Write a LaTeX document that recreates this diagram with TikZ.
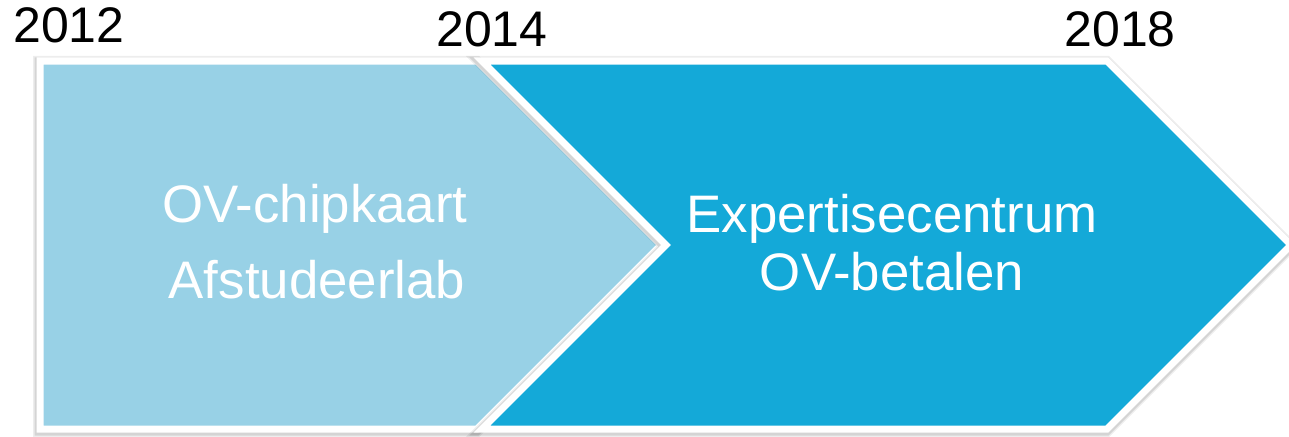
\documentclass[tikz,border=0pt]{standalone}
\usepackage{fontspec}
\setmainfont{Liberation Sans}
\definecolor{lightblue}{RGB}{152,209,230}
\definecolor{darkblue}{RGB}{20,169,216}
\begin{document}
\begin{tikzpicture}[x=1pt,y=-1pt,
  shapebox/.style={line width=7pt,draw=white,line join=miter},
  shadowA/.style={draw=black,opacity=0.07,line width=13pt,line join=miter},
  shadowB/.style={draw=black,opacity=0.10,line width=10pt,line join=miter},
  bodytext/.style={text=white,font=\fontsize{52.8}{62}\selectfont,anchor=base,inner sep=0pt},
  yeartext/.style={text=black,font=\fontsize{50}{58}\selectfont,anchor=base,inner sep=0pt}]
\useasboundingbox (0,0) rectangle (1289,436);
\fill[white] (0,0) rectangle (1289,436);
% light shape shadow
\begin{scope}[shift={(-0.5,1.5)}]
\draw[shadowA] (40,61) -- (477,61) -- (661,245) -- (477,429) -- (40,429) -- cycle;
\draw[shadowB] (40,61) -- (477,61) -- (661,245) -- (477,429) -- (40,429) -- cycle;
\end{scope}
% light shape
\draw[shapebox,fill=lightblue] (40,61) -- (477,61) -- (661,245) -- (477,429) -- (40,429) -- cycle;
% dark shape shadow
\begin{scope}[shift={(-0.5,1.5)}]
\draw[shadowA] (482,61) -- (1107,61) -- (1291,245) -- (1107,429) -- (482,429) -- (666,245) -- cycle;
\draw[shadowB] (482,61) -- (1107,61) -- (1291,245) -- (1107,429) -- (482,429) -- (666,245) -- cycle;
\end{scope}
% dark shape
\draw[shapebox,fill=darkblue] (482,61) -- (1107,61) -- (1291,245) -- (1107,429) -- (482,429) -- (666,245) -- cycle;
% texts
\node[bodytext] (t1) at (315,222) {OV-chipkaart};
\node[bodytext] (t2) at (317,298) {Afstudeerlab};
\node[bodytext] (t3) at (892,232) {Expertisecentrum};
\node[bodytext] (t4) at (892,290) {OV-betalen};
\node[yeartext] (y1) at (69,43) {2012};
\node[yeartext] (y2) at (492,47) {2014};
\node[yeartext] (y3) at (1120,47) {2018};
\end{tikzpicture}
\end{document}
